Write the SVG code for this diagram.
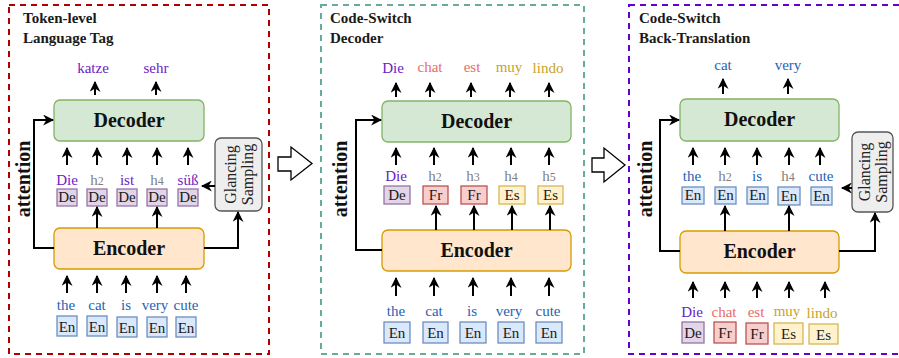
<svg xmlns="http://www.w3.org/2000/svg" width="899" height="358" viewBox="0 0 899 358" font-family="'Liberation Serif','Times New Roman',serif">
<style>
text{font-family:"Liberation Serif","Times New Roman",serif;}
.frame{fill:none;stroke-width:2;stroke-dasharray:6 5;}
.title{font-size:15px;font-weight:bold;fill:#1a1a1a;}
.big{font-size:20px;font-weight:bold;fill:#111;text-anchor:middle;}
.att{font-size:20px;font-weight:bold;fill:#111;text-anchor:middle;}
.w{font-size:15px;text-anchor:middle;font-family:"Liberation Serif",serif;}
.tag{font-size:15px;text-anchor:middle;fill:#1a1a1a;font-family:"Liberation Serif",serif;}
.gs{font-size:16px;text-anchor:middle;fill:#222;}
.pu{fill:#6a22c4;}
.bl{fill:#1f63b3;}
.rd{fill:#ea6b66;}
.yl{fill:#c8a32a;}
.gr{fill:#808080;}
.dec{fill:#d5e8d4;stroke:#82b366;stroke-width:1.3;}
.enc{fill:#ffe6cc;stroke:#d79b00;stroke-width:1.3;}
.gsb{fill:#eeeeee;stroke:#555;stroke-width:1.3;}
.bDe{fill:#e1d5e7;stroke:#9673a6;stroke-width:1.3;}
.bEn{fill:#dae8fc;stroke:#6c8ebf;stroke-width:1.3;}
.bFr{fill:#f8cecc;stroke:#b85450;stroke-width:1.3;}
.bEs{fill:#fff2cc;stroke:#d6b656;stroke-width:1.3;}
.a{fill:none;stroke:#000;stroke-width:2;marker-end:url(#ah);}
.blk{fill:#fff;stroke:#000;stroke-width:1.3;}
</style>
<defs>
<marker id="ah" viewBox="0 0 10 10" refX="9" refY="5" markerWidth="11" markerHeight="11" markerUnits="userSpaceOnUse" orient="auto">
<path d="M0,0 L10,5 L0,10 L3,5 Z" fill="#000"/>
</marker>
</defs>

<g id="panel1">
<rect class="frame" x="9" y="5" width="260" height="349" stroke="#b20000"/>
<text class="title" x="23" y="23">Token-level</text>
<text class="title" x="23" y="43">Language Tag</text>
</g>
<g id="panel2">
<rect class="frame" x="321" y="5" width="263" height="349" stroke="#67ab9f"/>
<text class="title" x="330" y="23">Code-Switch</text>
<text class="title" x="330" y="43">Decoder</text>
</g>
<g id="panel3">
<rect class="frame" x="629" y="5" width="290" height="349" stroke="#6600cc"/>
<text class="title" x="639" y="23">Code-Switch</text>
<text class="title" x="639" y="43">Back-Translation</text>
</g>

<g id="blockarrow1"><polygon class="blk" points="278,157 291,157 291,147 312,163.5 291,180 291,171 278,171"/></g>
<g id="blockarrow2"><polygon class="blk" points="592,158 604,158 604,148 625,165 604,182 604,172 592,172"/></g>

<g id="p1-decoder"><rect class="dec" x="54" y="100" width="150" height="41" rx="6"/><text class="big" x="129" y="127">Decoder</text></g>
<g id="p1-encoder"><rect class="enc" x="54" y="228" width="150" height="41" rx="6"/><text class="big" x="129" y="255">Encoder</text></g>
<g id="p1-glancing"><rect class="gsb" x="215" y="138" width="47" height="73" rx="6"/>
<text class="gs" transform="translate(236,174.5) rotate(-90)">Glancing</text>
<text class="gs" transform="translate(253,174.5) rotate(-90)">Sampling</text></g>
<g id="p1-attention"><text class="att" transform="translate(30,179) rotate(-90)">attention</text></g>
<g id="p1-outputs">
<text class="w pu" x="93" y="73">katze</text>
<text class="w pu" x="156" y="73">sehr</text>
</g>
<g id="p1-tags">
<text class="w pu" x="67" y="185">Die</text>
<text class="w gr" x="97" y="185">h<tspan font-size="12">2</tspan></text>
<text class="w pu" x="127" y="185">ist</text>
<text class="w gr" x="157" y="185">h<tspan font-size="12">4</tspan></text>
<text class="w pu" x="188" y="185">süß</text>
<rect class="bDe" x="57" y="189" width="20" height="17"/><text class="tag" x="67" y="202">De</text>
<rect class="bDe" x="87" y="189" width="20" height="17"/><text class="tag" x="97" y="202">De</text>
<rect class="bDe" x="117" y="189" width="20" height="17"/><text class="tag" x="127" y="202">De</text>
<rect class="bDe" x="147" y="189" width="20" height="17"/><text class="tag" x="157" y="202">De</text>
<rect class="bDe" x="178" y="189" width="20" height="17"/><text class="tag" x="188" y="202">De</text>
</g>
<g id="p1-inputs">
<text class="w bl" x="66" y="310">the</text>
<text class="w bl" x="97" y="310">cat</text>
<text class="w bl" x="126" y="310">is</text>
<text class="w bl" x="155" y="310">very</text>
<text class="w bl" x="186" y="310">cute</text>
<rect class="bEn" x="57" y="316" width="20" height="20"/><text class="tag" x="67" y="332">En</text>
<rect class="bEn" x="87" y="316" width="20" height="20"/><text class="tag" x="97" y="332">En</text>
<rect class="bEn" x="117" y="317" width="20" height="20"/><text class="tag" x="127" y="333">En</text>
<rect class="bEn" x="147" y="317" width="20" height="20"/><text class="tag" x="157" y="333">En</text>
<rect class="bEn" x="176" y="317" width="20" height="20"/><text class="tag" x="186" y="333">En</text>
</g>

<g id="p2-decoder"><rect class="dec" x="382" y="101" width="189" height="41" rx="6"/><text class="big" x="476.5" y="128">Decoder</text></g>
<g id="p2-encoder"><rect class="enc" x="382" y="230" width="189" height="41" rx="6"/><text class="big" x="476.5" y="257">Encoder</text></g>
<g id="p2-attention"><text class="att" transform="translate(347,179) rotate(-90)">attention</text></g>
<g id="p2-outputs">
<text class="w pu" x="393" y="73">Die</text>
<text class="w rd" x="430" y="72">chat</text>
<text class="w rd" x="472" y="72">est</text>
<text class="w yl" x="509" y="72">muy</text>
<text class="w yl" x="548" y="73">lindo</text>
</g>
<g id="p2-tags">
<text class="w pu" x="396" y="181">Die</text>
<text class="w gr" x="435" y="181">h<tspan font-size="12">2</tspan></text>
<text class="w gr" x="473" y="181">h<tspan font-size="12">3</tspan></text>
<text class="w gr" x="511" y="181">h<tspan font-size="12">4</tspan></text>
<text class="w gr" x="549" y="181">h<tspan font-size="12">5</tspan></text>
<rect class="bDe" x="384" y="186" width="26" height="18"/><text class="tag" x="397" y="200">De</text>
<rect class="bFr" x="423" y="186" width="25" height="18"/><text class="tag" x="435.5" y="200">Fr</text>
<rect class="bFr" x="461" y="186" width="26" height="18"/><text class="tag" x="474" y="200">Fr</text>
<rect class="bEs" x="499" y="186" width="26" height="18"/><text class="tag" x="512" y="200">Es</text>
<rect class="bEs" x="538" y="186" width="25" height="18"/><text class="tag" x="550.5" y="200">Es</text>
</g>
<g id="p2-inputs">
<text class="w bl" x="396" y="316">the</text>
<text class="w bl" x="434" y="316">cat</text>
<text class="w bl" x="472" y="316">is</text>
<text class="w bl" x="509" y="316">very</text>
<text class="w bl" x="548" y="316">cute</text>
<rect class="bEn" x="384" y="322" width="26" height="21"/><text class="tag" x="397" y="338">En</text>
<rect class="bEn" x="423" y="322" width="25" height="21"/><text class="tag" x="435.5" y="338">En</text>
<rect class="bEn" x="460" y="322" width="26" height="21"/><text class="tag" x="473" y="338">En</text>
<rect class="bEn" x="498" y="322" width="26" height="21"/><text class="tag" x="511" y="338">En</text>
<rect class="bEn" x="536" y="322" width="26" height="21"/><text class="tag" x="549" y="338">En</text>
</g>

<g id="p3-decoder"><rect class="dec" x="680" y="99" width="159" height="42" rx="6"/><text class="big" x="759.5" y="126">Decoder</text></g>
<g id="p3-encoder"><rect class="enc" x="680" y="231" width="159" height="42" rx="6"/><text class="big" x="759.5" y="258">Encoder</text></g>
<g id="p3-glancing"><rect class="gsb" x="852" y="132" width="41" height="80" rx="6"/>
<text class="gs" transform="translate(870,172) rotate(-90)">Glancing</text>
<text class="gs" transform="translate(887,172) rotate(-90)">Sampling</text></g>
<g id="p3-attention"><text class="att" transform="translate(652,179) rotate(-90)">attention</text></g>
<g id="p3-outputs">
<text class="w bl" x="723" y="70">cat</text>
<text class="w bl" x="788" y="70">very</text>
</g>
<g id="p3-tags">
<text class="w bl" x="692" y="181">the</text>
<text class="w gr" x="725" y="181">h<tspan font-size="12">2</tspan></text>
<text class="w bl" x="757" y="181">is</text>
<text class="w gr" x="788" y="181">h<tspan font-size="12">4</tspan></text>
<text class="w bl" x="821" y="181">cute</text>
<rect class="bEn" x="682" y="187" width="22" height="17"/><text class="tag" x="693" y="200">En</text>
<rect class="bEn" x="715" y="187" width="21" height="17"/><text class="tag" x="725.5" y="200">En</text>
<rect class="bEn" x="747" y="187" width="21" height="17"/><text class="tag" x="757.5" y="200">En</text>
<rect class="bEn" x="778" y="187" width="22" height="18"/><text class="tag" x="789" y="201">En</text>
<rect class="bEn" x="811" y="187" width="21" height="18"/><text class="tag" x="821.5" y="201">En</text>
</g>
<g id="p3-inputs">
<text class="w pu" x="692" y="317">Die</text>
<text class="w rd" x="724" y="317">chat</text>
<text class="w rd" x="756" y="317">est</text>
<text class="w yl" x="787" y="316">muy</text>
<text class="w yl" x="822" y="318">lindo</text>
<rect class="bDe" x="682" y="322" width="22" height="21"/><text class="tag" x="693" y="338">De</text>
<rect class="bFr" x="714" y="322" width="22" height="21"/><text class="tag" x="725" y="338">Fr</text>
<rect class="bFr" x="746" y="323" width="22" height="21"/><text class="tag" x="757" y="339">Fr</text>
<rect class="bEs" x="774" y="323" width="29" height="21"/><text class="tag" x="788.5" y="339">Es</text>
<rect class="bEs" x="809" y="324" width="29" height="20"/><text class="tag" x="823.5" y="340">Es</text>
</g>

<g id="connectors">
<path class="a" d="M95,95V82"/><path class="a" d="M156,95V82"/>
<path class="a" d="M67,165V148"/><path class="a" d="M97,165V148"/><path class="a" d="M127,165V148"/><path class="a" d="M157,165V148"/><path class="a" d="M188,165V148"/>
<path class="a" d="M97,228V207"/><path class="a" d="M157,228V207"/>
<path class="a" d="M67,293V276"/><path class="a" d="M97,293V276"/><path class="a" d="M126,293V276"/><path class="a" d="M157,293V276"/><path class="a" d="M186,293V276"/>
<path class="a" d="M54,248H34V120H53"/>
<path class="a" d="M204,248H238V212"/>
<path class="a" d="M215,186H202"/>
<path class="a" d="M396,97V83"/><path class="a" d="M430,97V83"/><path class="a" d="M471,97V83"/><path class="a" d="M510,97V83"/><path class="a" d="M549,97V83"/>
<path class="a" d="M396,165V148"/><path class="a" d="M434,165V148"/><path class="a" d="M473,165V148"/><path class="a" d="M511,165V148"/><path class="a" d="M549,165V148"/>
<path class="a" d="M436,230V206"/><path class="a" d="M474,230V206"/><path class="a" d="M512,230V206"/><path class="a" d="M550,230V206"/>
<path class="a" d="M396,296V278"/><path class="a" d="M434,296V278"/><path class="a" d="M473,296V278"/><path class="a" d="M511,296V278"/><path class="a" d="M549,296V278"/>
<path class="a" d="M382,250H356V120H381"/>
<path class="a" d="M723,94V79"/><path class="a" d="M788,94V79"/>
<path class="a" d="M693,165V148"/><path class="a" d="M725,165V148"/><path class="a" d="M757,165V148"/><path class="a" d="M789,165V148"/><path class="a" d="M820,165V148"/>
<path class="a" d="M725,231V206"/><path class="a" d="M789,231V206"/>
<path class="a" d="M693,298V282"/><path class="a" d="M725,298V282"/><path class="a" d="M757,298V282"/><path class="a" d="M789,298V282"/><path class="a" d="M825,298V282"/>
<path class="a" d="M680,251H660V120H679"/>
<path class="a" d="M839,251H875V213"/>
<path class="a" d="M852,188H842"/>
</g>
</svg>
